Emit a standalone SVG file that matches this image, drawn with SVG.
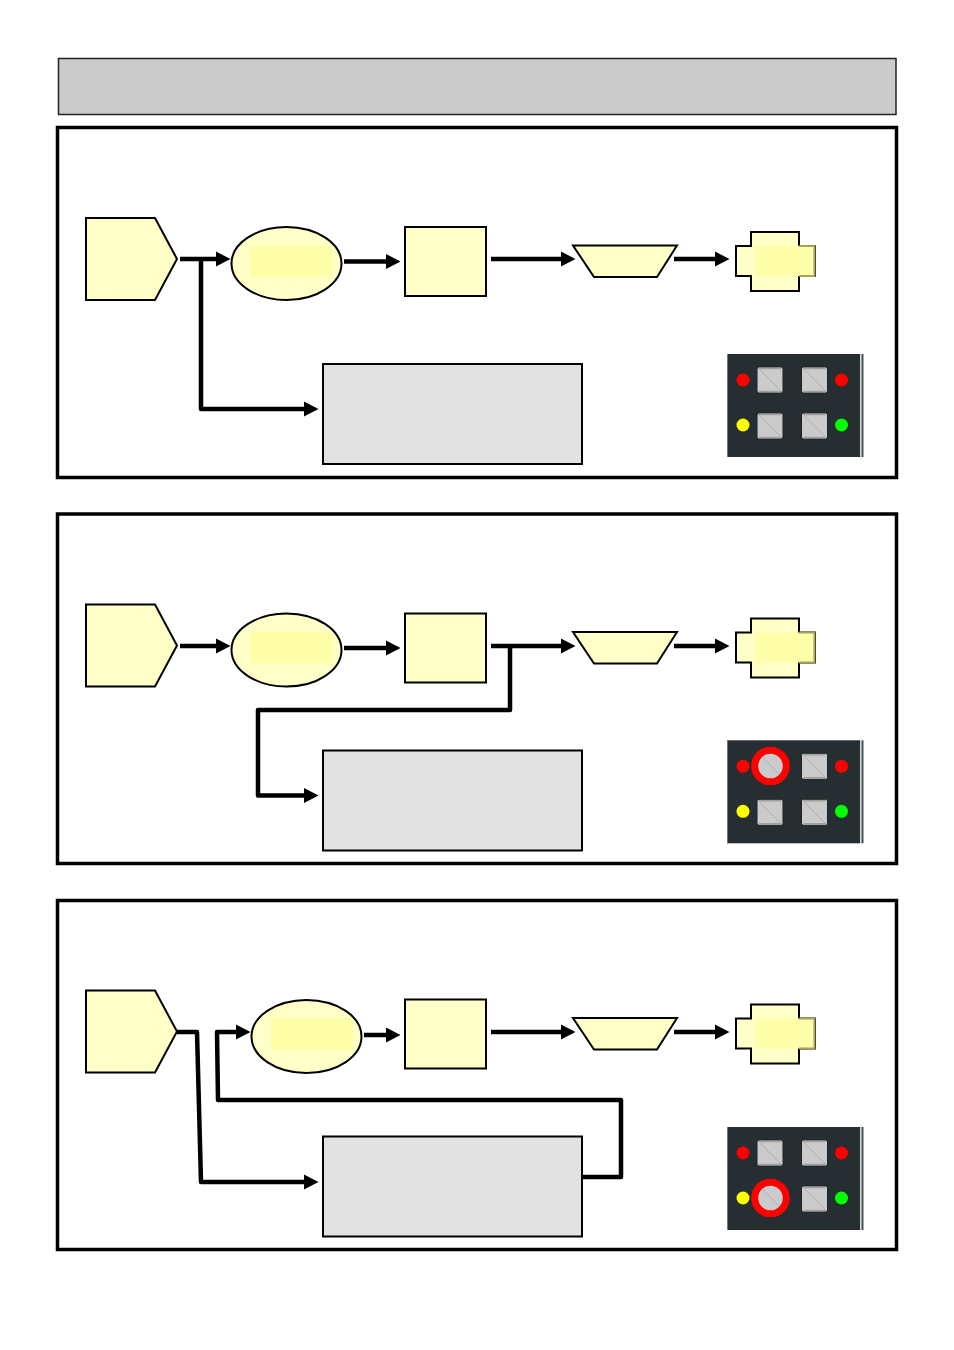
<svg xmlns="http://www.w3.org/2000/svg" width="954" height="1350" viewBox="0 0 954 1350">
<style>
.frame{fill:#fff;stroke:#000;stroke-width:3.5}
.y{fill:#ffffc8;stroke:#000;stroke-width:2}
.hl{fill:#ffffaa;stroke:none}
.grey{fill:#e2e2e2;stroke:#000;stroke-width:2}
.c{fill:none;stroke:#000;stroke-width:4.500;stroke-linejoin:round;marker-end:url(#a)}
.b{fill:#cbcbcb;stroke:#1c2326;stroke-width:1}
.d{stroke:#b0b0b0;stroke-width:1}
.e{stroke:#a0a0a0;stroke-width:1.500}
.ring{fill:none;stroke:#f00;stroke-width:7}
</style>
<defs>
<marker id="a" markerUnits="userSpaceOnUse" markerWidth="17" markerHeight="17" refX="6" refY="8" orient="auto"><path d="M0 0.500L14.500 8L0 15.500Z" fill="#000"/></marker>
<g id="btn"><rect class="b" x="0" y="0" width="26" height="26" rx="2"/><path class="d" d="M1 1L25 25"/><path class="e" d="M2 1.500H24M2 24.500H24"/></g>
<g id="board">
<rect x="727" y="354" width="133" height="103" fill="#262e31"/>
<rect x="727" y="354" width="1" height="103" fill="#777"/>
<rect x="860" y="354" width="1.500" height="103" fill="#d8d8d8"/>
<rect x="861.500" y="354" width="2" height="103" fill="#4a5052"/>
<circle cx="743" cy="380" r="6.500" fill="#f00"/><circle cx="841.500" cy="380" r="6.500" fill="#f00"/>
<circle cx="743" cy="425" r="6.500" fill="#ff0"/><circle cx="841.500" cy="425" r="6.500" fill="#0f0"/>
</g>
<g id="shapes">
<path class="y" d="M86 218H155L177 259L155 300H86Z"/>
<rect class="y" x="405" y="227" width="81" height="69"/>
<path class="y" d="M573 245.500H677L657 277H594Z"/>
<path class="y" d="M751 232H799V246H815V276H799V291H751V276H736V246H751Z"/>
<rect class="hl" x="755" y="246" width="59" height="30"/>
<path d="M799 246H814.500V276H799" fill="none" stroke="#a3a25e" stroke-width="2"/>
<rect class="grey" x="323" y="364" width="259" height="100"/>
</g>
</defs>
<g id="title"><rect x="58.500" y="58.500" width="837.500" height="56" fill="#cbcbcb" stroke="#222" stroke-width="1.500"/></g>

<g id="panel-1">
<rect class="frame" x="57.500" y="127.500" width="839" height="350"/>
<g id="p1-shapes"><use href="#shapes"/></g>
<g id="p1-oval"><ellipse class="y" cx="286.500" cy="263.500" rx="55" ry="36.500"/><rect class="hl" x="250" y="246" width="82" height="31"/></g>
<g id="p1-board"><use href="#board"/><use href="#btn" x="757" y="367"/><use href="#btn" x="801.500" y="367"/><use href="#btn" x="757" y="413"/><use href="#btn" x="801.500" y="413"/></g>
<g id="p1-connectors">
<path class="c" d="M180 259H222"/><path class="c" d="M344 261.500H392"/><path class="c" d="M491 259H567"/><path class="c" d="M674 259H721"/>
<path class="c" d="M201 259V409H310"/>
</g>
</g>

<g id="panel-2">
<rect class="frame" x="57.500" y="514" width="839" height="349.500"/>
<g id="p2-shapes"><use href="#shapes" y="386.500"/></g>
<g id="p2-oval"><ellipse class="y" cx="286.500" cy="650" rx="55" ry="36.500"/><rect class="hl" x="250" y="632" width="82" height="31"/></g>
<g id="p2-board"><use href="#board" y="386.300"/><use href="#btn" x="801.500" y="753.300"/><use href="#btn" x="757" y="799.300"/><use href="#btn" x="801.500" y="799.300"/>
<circle cx="770.500" cy="766" r="13" fill="#cbcbcb"/><path class="d" d="M762 757L780 775"/><circle class="ring" cx="770.500" cy="766" r="15.800"/></g>
<g id="p2-connectors">
<path class="c" d="M180 646H222"/><path class="c" d="M344 648H392"/><path class="c" d="M491 646H567"/><path class="c" d="M674 646H721"/>
<path class="c" d="M510 646V710H258V795.500H310"/>
</g>
</g>

<g id="panel-3">
<rect class="frame" x="57.500" y="900.500" width="839" height="349"/>
<g id="p3-shapes"><use href="#shapes" y="772.500"/></g>
<g id="p3-oval"><ellipse class="y" cx="306.500" cy="1036.500" rx="55" ry="36.500"/><rect class="hl" x="271" y="1018" width="82" height="32"/></g>
<g id="p3-board"><use href="#board" y="773"/><use href="#btn" x="757" y="1140"/><use href="#btn" x="801.500" y="1140"/><use href="#btn" x="801.500" y="1186"/>
<circle cx="770.500" cy="1198" r="13" fill="#cbcbcb"/><path class="d" d="M762 1189L780 1207"/><circle class="ring" cx="770.500" cy="1198" r="15.800"/></g>
<g id="p3-connectors">
<path class="c" d="M177 1032H197L201 1182H310"/>
<path class="c" d="M582 1177H621V1100H218L217 1032H242"/>
<path class="c" d="M364 1035H392"/><path class="c" d="M491 1032H567"/><path class="c" d="M674 1032H721"/>
</g>
</g>
</svg>
